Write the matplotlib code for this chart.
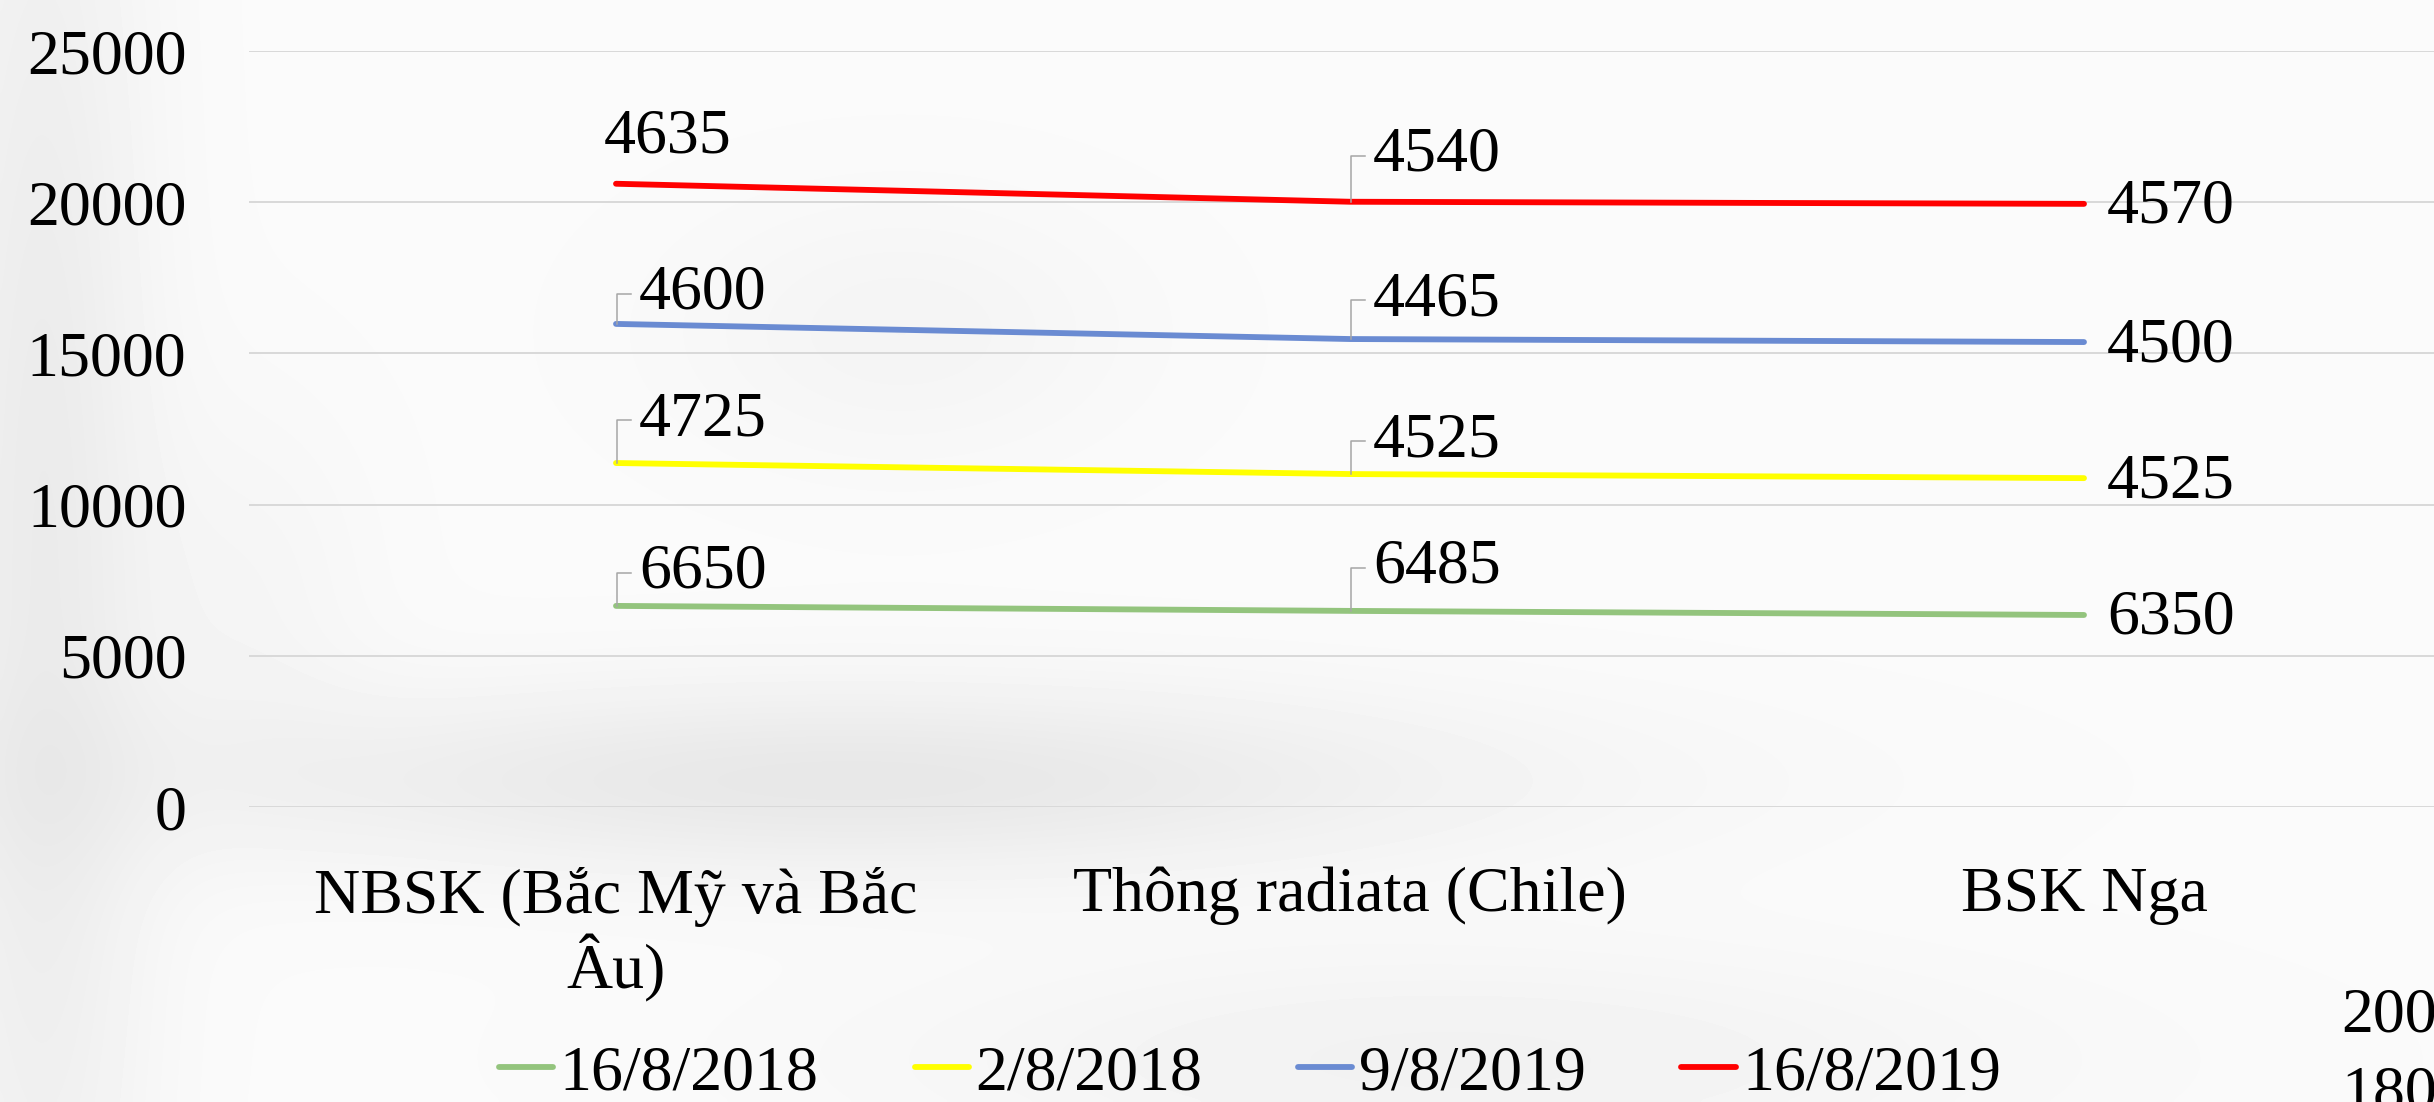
import numpy as np
import matplotlib.pyplot as plt
from matplotlib.lines import Line2D
from matplotlib.transforms import IdentityTransform

# chart data
categories = ['NBSK (Bắc Mỹ và Bắc\nÂu)', 'Thông radiata (Chile)', 'BSK Nga']
series_names = ['16/8/2018', '2/8/2018', '9/8/2019', '16/8/2019']
vals_16_8_2018 = [6650, 6485, 6350]
vals_2_8_2018 = [4725, 4525, 4525]
vals_9_8_2019 = [4600, 4465, 4500]
vals_16_8_2019 = [4635, 4540, 4570]
yticks = [0, 5000, 10000, 15000, 20000, 25000]

colors = ['#93c47d', '#ffff00', '#6a8bd2', '#ff0000']
# vertical offset (px) of the data labels above the line, per series / category
label_dy = [[33, 43], [43, 33], [30, 39], [46, 46]]

W, H, DPI = 2434, 1102, 100
plt.rcParams['font.family'] = ['Liberation Serif', 'DejaVu Serif']
FS = 46

fig = plt.figure(figsize=(W / DPI, H / DPI), dpi=DPI)

# soft grey background with blurred shadows
yy, xx = np.mgrid[0:H:4, 0:W:4]
bg_arr = np.full(xx.shape, 0.982)
blobs = [(40, 550, 110, 900, 0.06), (850, 780, 650, 95, 0.075),
         (900, 330, 220, 130, 0.025), (1450, 1060, 550, 110, 0.035),
         (250, 600, 120, 200, 0.02)]
for cx, cy, sx, sy, d in blobs:
    bg_arr -= d * np.exp(-((xx - cx) / sx) ** 2 - ((yy - cy) / sy) ** 2)
bg = fig.add_axes([0, 0, 1, 1], zorder=0)
bg.imshow(bg_arr, cmap='gray', vmin=0, vmax=1, extent=[0, W, H, 0],
          aspect='auto', interpolation='bicubic')
bg.axis('off')

ax = fig.add_axes([249 / W, (H - 807) / H, 2202 / W, 756 / H], zorder=1)
ax.patch.set_alpha(0)

series = [vals_16_8_2018, vals_2_8_2018, vals_9_8_2019, vals_16_8_2019]
stacked = np.cumsum(np.array(series), axis=0)
x = np.arange(len(categories))

for i, name in enumerate(series_names):
    ax.plot(x, stacked[i], color=colors[i], lw=4.2, solid_capstyle='round',
            label=name, zorder=3)

ax.set_xlim(-0.5, 2.5)
ax.set_ylim(0, 25000)
ax.set_yticks(yticks)
ax.yaxis.grid(True, color='#d9d9d9', lw=1.4)
ax.set_axisbelow(True)
for s in ax.spines.values():
    s.set_visible(False)
ax.tick_params(length=0, labelsize=FS)
ax.tick_params(axis='y', pad=45)
ax.tick_params(axis='x', pad=43)
ax.set_xticks(x)
ax.set_xticklabels(categories, linespacing=1.15)

# data labels
for i in range(len(series)):
    for j in range(len(categories)):
        xv, yv = x[j], stacked[i][j]
        txt = str(series[i][j])
        if j == 2:
            ax.annotate(txt, (xv, yv), xytext=(23, -4), textcoords='offset pixels',
                        ha='left', va='center', fontsize=FS, zorder=4)
            continue
        dy = label_dy[i][j]
        if i == 3 and j == 0:
            ax.annotate(txt, (xv, yv), xytext=(52, dy), textcoords='offset pixels',
                        ha='center', va='center', fontsize=FS, zorder=4)
            continue
        ax.annotate(txt, (xv, yv), xytext=(23, dy), textcoords='offset pixels',
                    ha='left', va='center', fontsize=FS, zorder=4)
        px, py = ax.transData.transform((xv, yv))
        fig.add_artist(Line2D([px + 1, px + 1, px + 15], [py, py + dy, py + dy],
                              color='#a6a6a6', lw=1.1, transform=IdentityTransform(),
                              zorder=2))

handles = [Line2D([], [], color=c, lw=4.2, solid_capstyle='round') for c in colors]
fig.legend(handles, series_names, loc='center', bbox_to_anchor=(1250 / W, 1 - 1074 / H),
           ncol=4, frameon=False, fontsize=FS, handlelength=0.85, handletextpad=0.1,
           columnspacing=1.5)

# fragments of the neighbouring chart
fig.text(2341 / W, 1 - 1017 / H, '200', ha='left', va='center', fontsize=FS)
fig.text(2341 / W, 1 - 1094 / H, '180', ha='left', va='center', fontsize=FS)

fig.savefig('out.png', dpi=DPI)
